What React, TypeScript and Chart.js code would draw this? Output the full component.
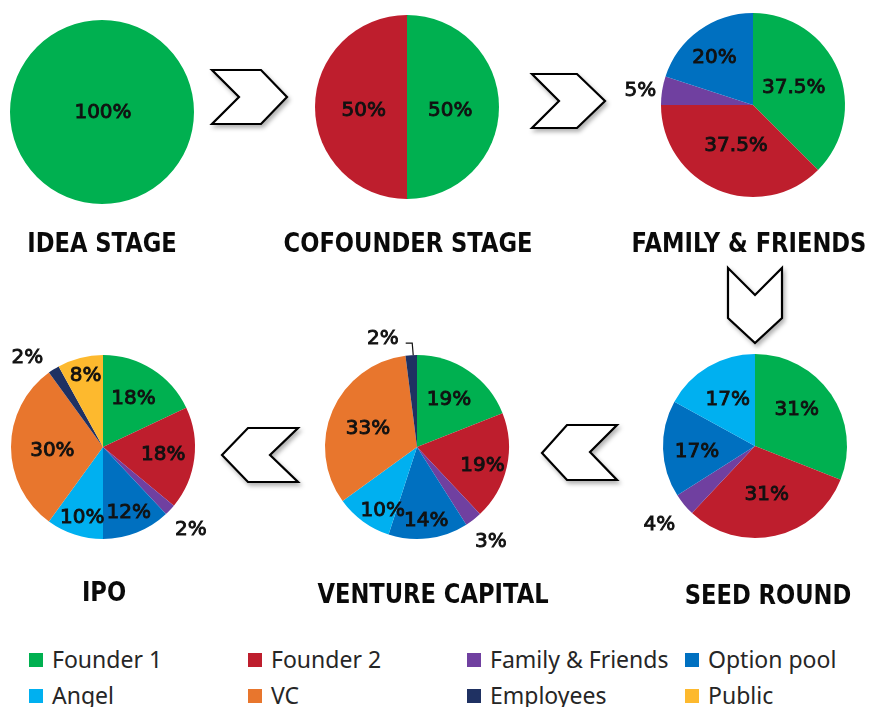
import React, { useEffect, useRef } from "react";
import { Chart, registerables } from "chart.js";

Chart.register(...registerables);

// ---- data ----
const SERIES = ["Founder 1", "Founder 2", "Family & Friends", "Option pool", "Angel", "VC", "Employees", "Public"];
const COLORS = ["#00B050", "#BE1E2D", "#7040A0", "#0070C0", "#00B0F0", "#E8762D", "#1F3162", "#FDB92E"];
const STAGES = ["IDEA STAGE", "COFOUNDER STAGE", "FAMILY & FRIENDS", "SEED ROUND", "VENTURE CAPITAL", "IPO"];
const IDEA_VALUES = [100];
const COFOUNDER_VALUES = [50, 50];
const FAMILY_VALUES = [37.5, 37.5, 5, 20];
const SEED_VALUES = [31, 31, 4, 17, 17];
const VENTURE_VALUES = [19, 19, 3, 14, 10, 33, 2];
const IPO_VALUES = [18, 18, 2, 12, 10, 30, 2, 8];

// ---- layout (positions / styles) ----
const RADIUS = 92;
const CANVAS = 300;
type Place = [number, number, number];
interface PieLayout {
  values: number[];
  title: string;
  cx: number;
  cy: number;
  tx: number;
  ty: number;
  place: Place[];
  leader?: number; // index of slice with leader line
}

const PIES: PieLayout[] = [
  { values: IDEA_VALUES, title: STAGES[0], cx: 102, cy: 112, tx: 102, ty: 242.5, place: [[0, 1, 1]] },
  { values: COFOUNDER_VALUES, title: STAGES[1], cx: 406.5, cy: 106.5, tx: 407.5, ty: 242, place: [[0.47, 0, 3.5], [0.47, 0, 3.5]] },
  { values: FAMILY_VALUES, title: STAGES[2], cx: 753, cy: 105, tx: 749, ty: 242, place: [[0.48, 0, 0], [0.48, 0, 0], [1.24, 0, 4], [0.6, -6, -3]] },
  { values: SEED_VALUES, title: STAGES[3], cx: 755, cy: 445.5, tx: 767.5, ty: 594, place: [[0.6, -4, -5], [0.54, 1, 0], [1.35, 0, 0], [0.63, 0, 4], [0.58, 0, 0]] },
  { values: VENTURE_VALUES, title: STAGES[4], cx: 416.5, cy: 446.5, tx: 432.5, ty: 593.5, place: [[0.62, 0, 0], [0.73, 0, 4], [1.31, 0, 0], [0.81, 0, 0], [0.78, 8, 6], [0.58, 0, 3], [1.24, -27, 6]], leader: 6 },
  { values: IPO_VALUES, title: STAGES[5], cx: 102.5, cy: 446.5, tx: 103.5, ty: 591, place: [[0.62, 0, 0], [0.66, 0, 0], [1.31, 0, 0], [0.76, 0, 1], [0.8, 2, 1], [0.55, 0, 4], [1.27, -13, 9], [0.8, 1, 0]] },
];

const ARROWS: number[][] = [
  [212, 70, 261, 70, 287, 97, 261, 124, 212, 124, 239, 97],
  [532, 74, 577, 74, 605, 101, 577, 128, 532, 128, 559, 101],
  [728, 268, 755, 295, 782, 268, 782, 318, 755, 343, 728, 318],
  [542, 453, 567, 425, 617, 425, 590, 452, 617, 480, 567, 480],
  [222, 455, 248, 428, 298, 428, 270, 455, 298, 482, 248, 482],
];

const LEGEND_COLS = [29, 248, 467, 685];
const LEGEND_ROWS = [660, 696];

function Pie({ cfg }: { cfg: PieLayout }) {
  const ref = useRef<HTMLCanvasElement | null>(null);
  useEffect(() => {
    if (!ref.current) return;
    const pad = CANVAS / 2 - RADIUS;
    const labelPlugin = {
      id: "pieLabels",
      afterDatasetsDraw(chart: any) {
        const ctx = chart.ctx as CanvasRenderingContext2D;
        const meta = chart.getDatasetMeta(0);
        const data = chart.data.datasets[0].data as number[];
        ctx.save();
        ctx.font = '20px "DejaVu Sans", Verdana, sans-serif';
        ctx.fillStyle = "#111";
        ctx.strokeStyle = "#111";
        ctx.lineWidth = 0.9;
        ctx.textAlign = "center";
        ctx.textBaseline = "middle";
        meta.data.forEach((arc: any, i: number) => {
          const p = arc.getProps(["x", "y", "startAngle", "endAngle", "outerRadius"], true);
          const mid = (p.startAngle + p.endAngle) / 2;
          const [f, dx, dy] = cfg.place[i] || [0.6, 0, 0];
          const lx = p.x + Math.cos(mid) * p.outerRadius * f + dx;
          const ly = p.y + Math.sin(mid) * p.outerRadius * f + dy;
          const txt = `${data[i]}%`;
          ctx.fillText(txt, lx, ly);
          ctx.strokeText(txt, lx, ly);
          if (cfg.leader === i) {
            const ex = p.x + Math.cos(mid) * p.outerRadius;
            const ey = p.y + Math.sin(mid) * p.outerRadius;
            const w = ctx.measureText(txt).width;
            ctx.beginPath();
            ctx.lineWidth = 1.2;
            ctx.moveTo(lx + w / 2 + 7, ly + 4);
            ctx.lineTo(ex + 1, ly + 4);
            ctx.lineTo(ex + 2, ey);
            ctx.stroke();
            ctx.lineWidth = 0.9;
          }
        });
        ctx.restore();
      },
    };
    const chart = new Chart(ref.current, {
      type: "pie",
      data: {
        labels: SERIES.slice(0, cfg.values.length),
        datasets: [
          {
            data: cfg.values,
            backgroundColor: COLORS.slice(0, cfg.values.length),
            borderWidth: 0,
          },
        ],
      },
      options: {
        responsive: false,
        animation: false,
        events: [],
        layout: { padding: pad },
        plugins: { legend: { display: false }, tooltip: { enabled: false } },
      },
      plugins: [labelPlugin],
    });
    return () => chart.destroy();
  }, [cfg]);
  return (
    <canvas
      ref={ref}
      width={CANVAS}
      height={CANVAS}
      style={{ position: "absolute", left: cfg.cx - CANVAS / 2, top: cfg.cy - CANVAS / 2, width: CANVAS, height: CANVAS }}
    />
  );
}

export default function App() {
  return (
    <div style={{ position: "fixed", left: 0, top: 0, width: 875, height: 707, background: "#fff", overflow: "hidden" }}>
      <svg width={875} height={707} style={{ position: "absolute", left: 0, top: 0 }}>
        <defs>
          <filter id="sh" x="-30%" y="-30%" width="160%" height="160%">
            <feDropShadow dx="2" dy="3" stdDeviation="2" floodColor="#000" floodOpacity="0.3" />
          </filter>
        </defs>
        {ARROWS.map((pts, i) => (
          <polygon
            key={i}
            points={pts.join(",")}
            fill="#fff"
            stroke="#000"
            strokeWidth={2.2}
            strokeLinejoin="miter"
            filter="url(#sh)"
          />
        ))}
      </svg>
      {PIES.map((p, i) => (
        <Pie key={i} cfg={p} />
      ))}
      {PIES.map((p, i) => (
        <div
          key={"t" + i}
          style={{
            position: "absolute",
            left: p.tx - 200,
            top: p.ty - 14.5,
            width: 400,
            height: 30,
            lineHeight: "30px",
            textAlign: "center",
            fontFamily: '"DejaVu Sans", Verdana, sans-serif',
            fontWeight: "bold",
            fontSize: 26,
            color: "#0a0a0a",
            whiteSpace: "nowrap",
            transform: "scaleX(0.87)",
            transformOrigin: "center",
          }}
        >
          {p.title}
        </div>
      ))}
      {SERIES.map((s, i) => {
        const col = LEGEND_COLS[i % 4];
        const row = LEGEND_ROWS[Math.floor(i / 4)];
        return (
          <div key={"l" + i}>
            <div
              style={{ position: "absolute", left: col, top: row - 7, width: 14, height: 14, background: COLORS[i] }}
            />
            <div
              style={{
                position: "absolute",
                left: col + 23,
                top: row - 15.7,
                height: 30,
                lineHeight: "30px",
                fontFamily: '"Noto Sans", "Open Sans", sans-serif',
                fontSize: 23,
                color: "#262626",
                whiteSpace: "nowrap",
              }}
            >
              {s}
            </div>
          </div>
        );
      })}
    </div>
  );
}
